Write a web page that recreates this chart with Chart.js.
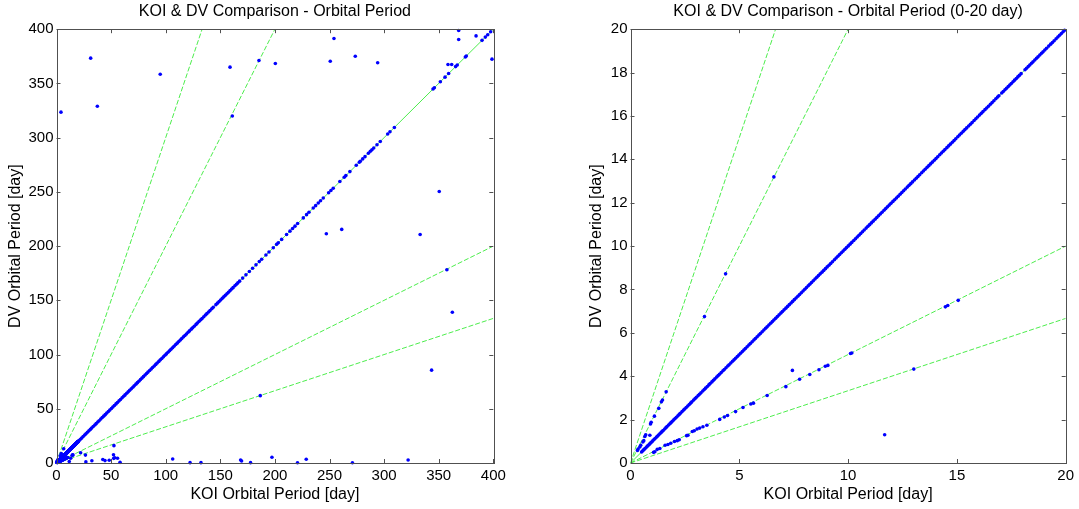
<!DOCTYPE html>
<html>
<head>
<meta charset="utf-8">
<script src="https://cdn.jsdelivr.net/npm/chart.js@4"></script>
<style>
  body { margin: 0; background: #fff; }
  #wrap { position: relative; width: 1079px; height: 509px; }
  canvas { position: absolute; top: 0; }
</style>
</head>
<body>
<div id="wrap">
  <canvas id="fullChart" width="540" height="509" style="left:0"></canvas>
  <canvas id="zoomChart" width="539" height="509" style="left:540px"></canvas>
</div>
<script>
// periods (days) where the DV period matches the KOI period
const matchedPeriod = [
  0.51,0.55,0.60,0.63,0.68,0.74,0.78,0.82,0.87,0.93,0.97,1.02,1.08,1.13,1.19,1.23,1.29,1.35,1.41,1.46,
  1.50,1.57,1.63,1.68,1.75,1.81,1.86,1.92,1.99,2.05,2.11,2.18,2.24,2.29,2.37,2.44,2.49,2.56,2.63,2.70,
  2.76,2.82,2.90,2.97,3.03,3.11,3.17,3.24,3.32,3.39,3.45,3.53,3.60,3.66,3.74,3.81,3.88,3.96,4.03,4.09,
  4.17,4.25,4.31,4.39,4.47,4.53,4.61,4.69,4.76,4.83,4.91,4.98,5.06,5.14,5.21,5.28,5.36,5.44,5.51,5.59,
  5.67,5.74,5.82,5.90,5.97,6.05,6.13,6.21,6.28,6.36,6.44,6.52,6.59,6.67,6.75,6.83,6.91,6.98,7.06,7.14,
  7.22,7.30,7.38,7.45,7.53,7.61,7.69,7.77,7.85,7.93,8.01,8.09,8.17,8.24,8.32,8.40,8.48,8.56,8.64,8.72,
  8.80,8.88,8.96,9.04,9.12,9.20,9.28,9.37,9.45,9.53,9.61,9.69,9.77,9.85,9.93,10.01,10.09,10.17,10.26,10.34,
  10.42,10.50,10.58,10.66,10.74,10.83,10.91,10.99,11.07,11.15,11.24,11.32,11.40,11.48,11.56,11.65,11.73,11.81,11.89,11.97,
  12.06,12.14,12.22,12.30,12.39,12.47,12.55,12.63,12.72,12.80,12.88,12.96,13.05,13.13,13.21,13.29,13.38,13.46,13.54,13.63,
  13.71,13.79,13.87,13.96,14.04,14.12,14.21,14.29,14.37,14.45,14.54,14.62,14.70,14.79,14.87,14.95,15.04,15.12,15.20,15.29,
  15.37,15.45,15.54,15.62,15.70,15.79,15.87,15.95,16.04,16.12,16.20,16.29,16.37,16.45,16.54,16.62,16.70,16.79,16.87,16.93,
  17.06,17.13,17.21,17.28,17.36,17.43,17.50,17.58,17.65,17.73,17.80,17.87,17.95,18.13,18.20,18.28,18.35,18.43,18.50,18.58,
  18.66,18.73,18.81,18.89,18.96,19.04,19.12,19.22,19.31,19.39,19.47,19.56,19.64,19.72,19.80,19.88,19.95,
  20.6,21.9,23.1,24.4,25.8,27.0,28.3,29.7,31.0,32.2,33.6,35.1,36.3,37.8,39.0,40.5,41.9,43.2,44.6,46.0,
  47.5,48.8,50.3,51.6,53.0,54.5,55.8,57.3,58.6,60.1,61.5,62.8,64.3,65.7,67.0,68.5,69.9,71.2,72.7,74.1,
  75.4,76.9,78.3,79.6,81.1,82.5,83.8,85.3,86.7,88.0,89.5,90.9,92.2,93.7,95.1,96.4,97.9,99.3,100.6,102.1,
  103.5,104.8,106.3,107.6,109.2,110.5,112.0,113.4,114.7,116.3,117.6,119.0,120.5,121.8,123.4,124.7,126.1,127.8,129.0,130.6,
  132.1,133.3,134.9,136.4,137.7,139.3,140.6,142.2,143.5,146.0,147.4,148.9,150.3,151.8,153.2,154.6,156.1,157.5,159.0,160.4,
  161.7,163.4,164.8,166.1,167.7,170.5,173.5,176.6,179.6,182.7,185.7,187.9,191.8,194.6,198.5,201.6,203.1,206.2,210.7,213.8,
  216.2,218.4,220.8,226.0,229.0,231.2,235.1,237.3,239.7,241.8,244.3,249.2,251.3,253.4,259.5,263.5,265.0,268.7,274.5,277.3,
  278.2,280.4,282.5,285.6,287.4,288.9,290.5,293.5,296.5,303.3,305.4,309.4,344.8,346.0,351.5,355.8,359.1,365.5,367.0,374.4,
  375.3,389.7,392.7,394.9,397.6
];

// KOI / DV pairs that do not match
const offKoi = [
  15.06,14.58,14.47,10.17,10.11,9.07,8.95,8.66,8.24,7.77,7.14,6.28,5.65,5.53,5.17,4.83,4.46,4.31,4.10,3.51,
  3.33,3.18,3.06,2.93,2.84,2.64,2.58,2.24,2.15,2.02,1.85,1.72,1.59,1.35,1.23,1.12,1.06,
  7.44,11.68,13.02,
  6.59,4.37,3.40,1.64,1.47,1.42,1.30,1.10,0.95,0.92,0.89,0.70,0.66,0.61,0.57,0.47,0.43,0.35,0.32,
  4.1,31.3,37.4,95.0,158.9,161.0,185.4,200.4,250.7,254.1,273.6,294.1,368.3,368.3,384.2,398.8,358.5,361.9,
  350.5,333.0,247.1,261.2,357.5,362.5,343.5,186.6,
  22.1,26.5,26.9,32.4,42.4,44.4,48.3,52.6,52.2,53.4,52.4,55.9,58.2,
  106.4,122.3,132.3,168.6,169.5,177.7,197.3,220.7,228.7,271.0,322.0
];
const offDv = [
  7.50,7.26,7.20,5.07,5.05,4.50,4.46,4.30,4.08,3.86,3.52,3.11,2.76,2.72,2.56,2.37,2.19,2.12,2.01,1.74,
  1.67,1.61,1.57,1.49,1.45,1.28,1.26,1.07,1.03,0.99,0.91,0.85,0.82,0.67,0.63,0.52,0.49,
  4.27,1.30,4.33,
  13.19,8.72,6.75,3.28,2.90,2.82,2.52,2.16,1.88,1.80,1.28,1.30,1.22,1.03,0.97,0.82,0.74,0.64,0.58,
  323.5,373.3,329.0,358.5,365.0,320.0,371.2,368.4,370.5,391.4,375.1,369.0,398.8,390.5,393.8,372.4,367.5,367.5,
  250.3,210.7,211.4,215.4,178.2,139.0,85.6,62.1,
  9.4,7.3,1.0,2.1,3.2,2.2,2.5,16.0,7.6,4.9,4.3,4.4,0.6,
  3.7,0.3,0.3,2.8,1.9,0.3,5.3,0.2,3.4,0.2,2.8
];

// DV/KOI ratios of the dashed guide lines
const guideRatios = [3, 2, 1, 1/2, 1/3];

const FONT = '"Liberation Sans", Arial, sans-serif';

const framePlugin = {
  id: 'frame',
  afterDraw(chart) {
    const { ctx, chartArea: a, scales: { x, y } } = chart;
    ctx.save();
    ctx.strokeStyle = '#505050';
    ctx.lineWidth = 1;
    ctx.strokeRect(Math.round(a.left) + 0.5, Math.round(a.top) + 0.5, Math.round(a.width), Math.round(a.height));
    ctx.beginPath();
    x.ticks.forEach(t => {
      const p = Math.round(x.getPixelForValue(t.value)) + 0.5;
      ctx.moveTo(p, a.bottom); ctx.lineTo(p, a.bottom - 4);
      ctx.moveTo(p, a.top); ctx.lineTo(p, a.top + 4);
    });
    y.ticks.forEach(t => {
      const p = Math.round(y.getPixelForValue(t.value)) + 0.5;
      ctx.moveTo(a.left, p); ctx.lineTo(a.left + 4, p);
      ctx.moveTo(a.right, p); ctx.lineTo(a.right - 4, p);
    });
    ctx.stroke();
    ctx.restore();
  }
};

function makeChart(id, cfg) {
  const points = matchedPeriod.map(p => ({ x: p, y: p }));
  offKoi.forEach((k, i) => points.push({ x: k, y: offDv[i] }));

  const guides = guideRatios.map(r => ({
    type: 'line',
    data: [{ x: 0, y: 0 }, { x: cfg.max, y: cfg.max * r }],
    borderColor: '#4ded4d',
    borderWidth: 1,
    borderDash: r === 1 ? [] : [5, 2],
    pointRadius: 0,
    showLine: true,
    order: 1
  }));

  return new Chart(document.getElementById(id), {
    type: 'scatter',
    data: {
      datasets: [{
        data: points,
        backgroundColor: '#0000ff',
        borderWidth: 0,
        pointRadius: 1.8,
        clip: 2,
        order: 0
      }, ...guides]
    },
    options: {
      responsive: false,
      animation: false,
      events: [],
      layout: { padding: cfg.padding },
      plugins: {
        legend: { display: false },
        tooltip: { enabled: false },
        title: {
          display: true,
          text: cfg.title,
          color: '#000',
          fullSize: false,
          font: { family: FONT, size: 16, weight: 'normal' },
          padding: { top: 2, bottom: 8 }
        }
      },
      scales: {
        x: {
          type: 'linear', min: 0, max: cfg.max,
          ticks: { stepSize: cfg.xStep, color: '#000', padding: 4, maxRotation: 0, autoSkip: false,
                   font: { family: FONT, size: 15 } },
          grid: { display: false, drawTicks: false },
          border: { display: false },
          title: { display: true, text: 'KOI Orbital Period [day]', color: '#000',
                   font: { family: FONT, size: 16 }, padding: { top: 0, bottom: 5 } },
          afterFit(s) { s.height = 46; }
        },
        y: {
          type: 'linear', min: 0, max: cfg.max,
          ticks: { stepSize: cfg.yStep, color: '#000', padding: 3, autoSkip: false,
                   font: { family: FONT, size: 15 } },
          grid: { display: false, drawTicks: false },
          border: { display: false },
          title: { display: true, text: 'DV Orbital Period [day]', color: '#000',
                   font: { family: FONT, size: 16 }, padding: { top: 6, bottom: 0 } },
          afterFit(s) { s.width = cfg.yWidth; }
        }
      }
    },
    plugins: [framePlugin]
  });
}

makeChart('fullChart', {
  title: 'KOI & DV Comparison - Orbital Period',
  max: 400, xStep: 50, yStep: 50,
  yWidth: 56.5,
  padding: { left: 0, right: 46.7, top: 0, bottom: 0 }
});

makeChart('zoomChart', {
  title: 'KOI & DV Comparison - Orbital Period (0-20 day)',
  max: 20, xStep: 5, yStep: 2,
  yWidth: 49.5,
  padding: { left: 41, right: 13.3, top: 0, bottom: 0 }
});
</script>
</body>
</html>
